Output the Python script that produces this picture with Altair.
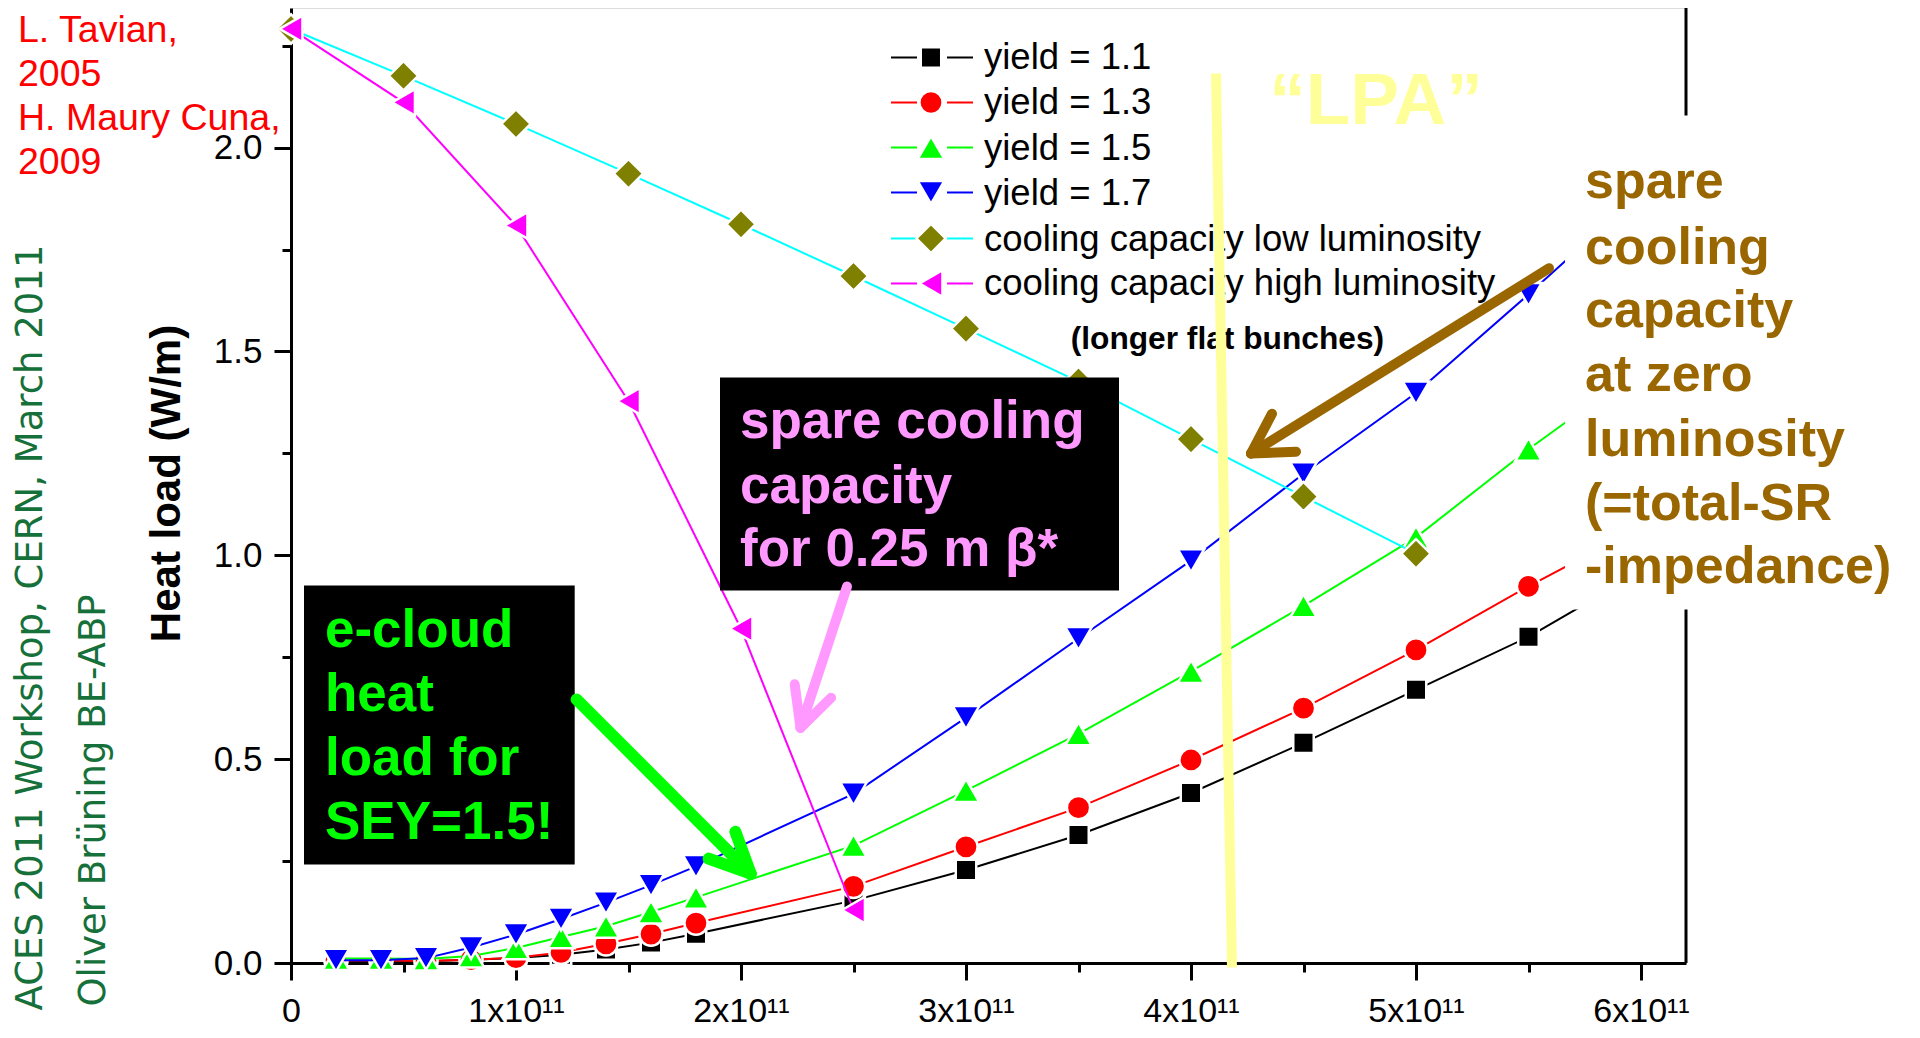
import altair as alt
import pandas as pd

# ---------------- data ----------------
bunch_intensity = [0.2e11, 0.4e11, 0.6e11, 0.8e11, 1.0e11, 1.2e11, 1.4e11, 1.6e11, 1.8e11,
                   2.5e11, 3.0e11, 3.5e11, 4.0e11, 4.5e11, 5.0e11, 5.5e11, 6.0e11]
heat_yield_11 = [0.005, 0.005, 0.004, 0.008, 0.012, 0.020, 0.033, 0.050, 0.072,
                 0.153, 0.228, 0.314, 0.417, 0.540, 0.670, 0.800, 0.960]
heat_yield_13 = [0.006, 0.006, 0.005, 0.008, 0.013, 0.026, 0.047, 0.071, 0.098,
                 0.188, 0.285, 0.381, 0.498, 0.625, 0.768, 0.924, 1.070]
heat_yield_15 = [0.011, 0.011, 0.010, 0.017, 0.037, 0.064, 0.090, 0.125, 0.161,
                 0.288, 0.423, 0.562, 0.715, 0.876, 1.044, 1.260, 1.460]
heat_yield_17 = [0.007, 0.007, 0.012, 0.038, 0.070, 0.108, 0.148, 0.191, 0.237,
                 0.415, 0.602, 0.796, 0.987, 1.200, 1.398, 1.640, 1.890]

cap_low_x = [0.0, 0.5e11, 1.0e11, 1.5e11, 2.0e11, 2.5e11, 3.0e11, 3.5e11, 4.0e11, 4.5e11, 5.0e11]
cap_low = [2.291, 2.176, 2.058, 1.936, 1.812, 1.685, 1.556, 1.426, 1.285, 1.144, 1.004]

cap_high_x = [0.0, 0.5e11, 1.0e11, 1.5e11, 2.0e11, 2.5e11]
cap_high = [2.291, 2.111, 1.809, 1.378, 0.820, 0.130]

series_labels = ["yield = 1.1", "yield = 1.3", "yield = 1.5", "yield = 1.7",
                 "cooling capacity low luminosity", "cooling capacity high luminosity"]
line_colors = ["#000000", "#ff0000", "#00ff00", "#0000ff", "#00ffff", "#ff00ff"]
marker_colors = ["#000000", "#ff0000", "#00ff00", "#0000ff", "#808000", "#ff00ff"]
marker_shapes = ["square", "circle", "triangle-up", "triangle-down", "diamond", "triangle-left"]
marker_sizes = [420, 540, 700, 700, 860, 700]

x_ticks = [0.0, 0.5e11, 1.0e11, 1.5e11, 2.0e11, 2.5e11, 3.0e11, 3.5e11, 4.0e11, 4.5e11, 5.0e11, 5.5e11, 6.0e11]
y_ticks = [0.0, 0.25, 0.5, 0.75, 1.0, 1.25, 1.5, 1.75, 2.0, 2.25]

# ---------------- annotations (positions in data units) ----------------
legend_sym_x = 2.8444e11
legend_seg_left = [2.6667e11, 2.7822e11]
legend_seg_right = [2.9156e11, 3.0311e11]
legend_text_x = 3.08e11
legend_row_y = [2.2210, 2.1106, 2.0002, 1.8899, 1.7771, 1.6667]
legend_base_y = [2.1940, 2.0812, 1.9708, 1.8604, 1.7476, 1.6373]

red_lines = ["L. Tavian,", "2005", "H. Maury Cuna,", "2009"]
red_y = [2.2588, 2.1506, 2.0424, 1.9343]
red_x = -1.2133e11

green_side = ["ACES 2011 Workshop, CERN, March 2011", "Oliver Brüning BE-ABP"]
green_side_x = [-1.108e11, -0.8267e11]
green_side_y = [-0.1165, -0.1067]

ecloud_lines = ["e-cloud", "heat", "load for", "SEY=1.5!"]
ecloud_y = [0.7739, 0.6179, 0.4623, 0.3037]
ecloud_x = 0.1511e11
ecloud_box = [0.0578e11, 1.2609e11, 0.9259, 0.2416]

spare_lines = ["spare cooling", "capacity", "for 0.25 m β*"]
spare_y = [1.2865, 1.1295, 0.9738]
spare_x = 1.9956e11
spare_box = [1.9067e11, 3.68e11, 1.4361, 0.9137]

brown_lines = ["spare", "cooling", "capacity", "at zero", "luminosity", "(=total-SR", "-impedance)"]
brown_y = [1.8752, 1.7133, 1.5588, 1.4018, 1.2424, 1.0854, 0.9309]
brown_x = 5.7511e11
white_box = [5.6622e11, 8.0e11, 2.0787, 0.8671]

# arrows: shaft + two head arms as (x, y, x2, y2)
green_arrow = [(1.2693e11, 0.6466, 2.0431e11, 0.2190),
               (2.0431e11, 0.2190, 1.9751e11, 0.3218),
               (2.0431e11, 0.2190, 1.8560e11, 0.2561)]
pink_arrow = [(2.4711e11, 0.9235, 2.2644e11, 0.5767),
              (2.2644e11, 0.5767, 2.2387e11, 0.6836),
              (2.2644e11, 0.5767, 2.4004e11, 0.6507)]
brown_arrow = [(5.5911e11, 1.7041, 4.2667e11, 1.2497),
               (4.2667e11, 1.2497, 4.4667e11, 1.2542),
               (4.2667e11, 1.2497, 4.3600e11, 1.3473)]
yellow_line = [(4.1111e11, 2.1818, 4.1822e11, -0.011)]
lpa_pos = (4.8222e11, 2.0590)
flat_pos = (3.4653e11, 1.5048)

x_max = 6.2e11
y_max = 2.3424

FONT = "Liberation Sans"

xs = alt.Scale(domain=[0, x_max], nice=False, zero=False)
ys = alt.Scale(domain=[0, y_max], nice=False, zero=False)

x_axis = alt.Axis(
    values=x_ticks, title=None, grid=False,
    labelExpr="datum.value === 0 ? '0' : (datum.value % 100000000000 === 0 ? format(datum.value / 1e11, 'd') + 'x10¹¹' : '')",
    labelFont=FONT, labelFontSize=34, labelColor="black", labelPadding=14,
    labelFlush=False, labelOverlap=False,
    domainColor="black", domainWidth=3, tickColor="black", tickWidth=3,
    tickSize={"condition": {"test": "datum.value % 100000000000 === 0", "value": 17}, "value": 9},
)
y_axis = alt.Axis(
    values=y_ticks, title="Heat load (W/m)", grid=False,
    labelExpr="datum.value % 0.5 === 0 ? format(datum.value, '.1f') : ''",
    labelFont=FONT, labelFontSize=35, labelColor="black", labelPadding=12,
    labelOverlap=False, labelFlush=False,
    domainColor="black", domainWidth=3, tickColor="black", tickWidth=3,
    tickSize={"condition": {"test": "datum.value % 0.5 === 0", "value": 17}, "value": 9},
    titleFont=FONT, titleFontSize=42, titleFontWeight="bold", titleColor="black",
    titleAngle=270, titleAlign="center", titleBaseline="middle", titleX=-125, titleY=475,
)


def X(f):
    return alt.X(f, type="quantitative", scale=xs, axis=x_axis)


def Y(f):
    return alt.Y(f, type="quantitative", scale=ys, axis=y_axis)


layers = []

# right frame line
frame_df = pd.DataFrame({"x": [x_max], "y": [0.0], "y2": [y_max]})
layers.append(alt.Chart(frame_df).mark_rule(color="black", strokeWidth=3).encode(
    x=X("x"), y=Y("y"), y2=alt.Y2("y2")))

# data series
series_x = [bunch_intensity] * 4 + [cap_low_x, cap_high_x]
series_y = [heat_yield_11, heat_yield_13, heat_yield_15, heat_yield_17, cap_low, cap_high]
for i in range(6):
    df = pd.DataFrame({"x": series_x[i], "y": series_y[i], "series": series_labels[i]})
    layers.append(alt.Chart(df).mark_line(color=line_colors[i], strokeWidth=2).encode(
        x=X("x"), y=Y("y")))
    layers.append(alt.Chart(df).mark_point(
        shape=marker_shapes[i], filled=True, fill=marker_colors[i], stroke="white",
        strokeWidth=2.5, size=marker_sizes[i], opacity=1).encode(x=X("x"), y=Y("y")))


def rect_layer(b, color):
    df = pd.DataFrame({"x": [b[0]], "x2": [b[1]], "y": [b[2]], "y2": [b[3]]})
    return alt.Chart(df).mark_rect(color=color, opacity=1).encode(
        x=X("x"), x2=alt.X2("x2"), y=Y("y"), y2=alt.Y2("y2"))


def text_layer(texts, xv, yv, **kw):
    if not isinstance(xv, list):
        xv = [xv] * len(texts)
    df = pd.DataFrame({"t": texts, "x": xv, "y": yv})
    return alt.Chart(df).mark_text(**kw).encode(x=X("x"), y=Y("y"), text="t:N")


def seg_layer(segs, color, width):
    df = pd.DataFrame(segs, columns=["x", "y", "x2", "y2"])
    return alt.Chart(df).mark_rule(color=color, strokeWidth=width, strokeCap="round").encode(
        x=X("x"), y=Y("y"), x2=alt.X2("x2"), y2=alt.Y2("y2"))


# black annotation boxes with text
layers.append(rect_layer(ecloud_box, "black"))
layers.append(text_layer(ecloud_lines, ecloud_x, ecloud_y, align="left", baseline="alphabetic",
                         font=FONT, fontWeight="bold", fontSize=53, color="#00ff00"))
layers.append(rect_layer(spare_box, "black"))
layers.append(text_layer(spare_lines, spare_x, spare_y, align="left", baseline="alphabetic",
                         font=FONT, fontWeight="bold", fontSize=53, color="#ff99ff"))

# legend
for i in range(6):
    segs = [(legend_seg_left[0], legend_row_y[i], legend_seg_left[1], legend_row_y[i]),
            (legend_seg_right[0], legend_row_y[i], legend_seg_right[1], legend_row_y[i])]
    df = pd.DataFrame(segs, columns=["x", "y", "x2", "y2"])
    layers.append(alt.Chart(df).mark_rule(color=line_colors[i], strokeWidth=2).encode(
        x=X("x"), y=Y("y"), x2=alt.X2("x2"), y2=alt.Y2("y2")))
    sdf = pd.DataFrame({"x": [legend_sym_x], "y": [legend_row_y[i]]})
    layers.append(alt.Chart(sdf).mark_point(
        shape=marker_shapes[i], filled=True, fill=marker_colors[i], stroke="white",
        strokeWidth=2.5, size=marker_sizes[i], opacity=1).encode(x=X("x"), y=Y("y")))
layers.append(text_layer(series_labels, legend_text_x, legend_base_y, align="left",
                         baseline="alphabetic", font=FONT, fontSize=36.5, color="black"))

layers.append(text_layer(["(longer flat bunches)"], flat_pos[0], [flat_pos[1]], align="left",
                         baseline="alphabetic", font=FONT, fontWeight="bold", fontSize=31.7,
                         color="black"))

# white box behind brown text
layers.append(rect_layer(white_box, "white"))
layers.append(text_layer(brown_lines, brown_x, brown_y, align="left", baseline="alphabetic",
                         font=FONT, fontWeight="bold", fontSize=52, color="#996600"))

# arrows
layers.append(seg_layer(green_arrow, "#00ff00", 12))
layers.append(seg_layer(pink_arrow, "#ff99ff", 10))
layers.append(seg_layer(brown_arrow, "#996600", 10))

# LPA marker line and label
ydf = pd.DataFrame(yellow_line, columns=["x", "y", "x2", "y2"])
layers.append(alt.Chart(ydf).mark_rule(color="#ffff99", strokeWidth=10).encode(
    x=X("x"), y=Y("y"), x2=alt.X2("x2"), y2=alt.Y2("y2")))
layers.append(text_layer(["“LPA”"], lpa_pos[0], [lpa_pos[1]], align="center",
                         baseline="alphabetic", font=FONT, fontWeight="bold", fontSize=73,
                         color="#ffff99"))

# side texts
layers.append(text_layer(red_lines, red_x, red_y, align="left", baseline="alphabetic",
                         font=FONT, fontSize=37.5, color="#ff0000"))
layers.append(text_layer(green_side, green_side_x, green_side_y, align="left",
                         baseline="alphabetic", angle=270, font="DejaVu Sans", fontSize=37,
                         color="#16703a"))

chart = alt.layer(*layers).properties(
    width=1395, height=955,
    autosize=alt.AutoSizeParams(type="none"),
    padding={"left": 283, "top": 0, "right": 226, "bottom": 67},
).configure_view(stroke=None).configure(background="white", font=FONT)

chart.save("out.html", embed_options={"renderer": "svg", "actions": False})
